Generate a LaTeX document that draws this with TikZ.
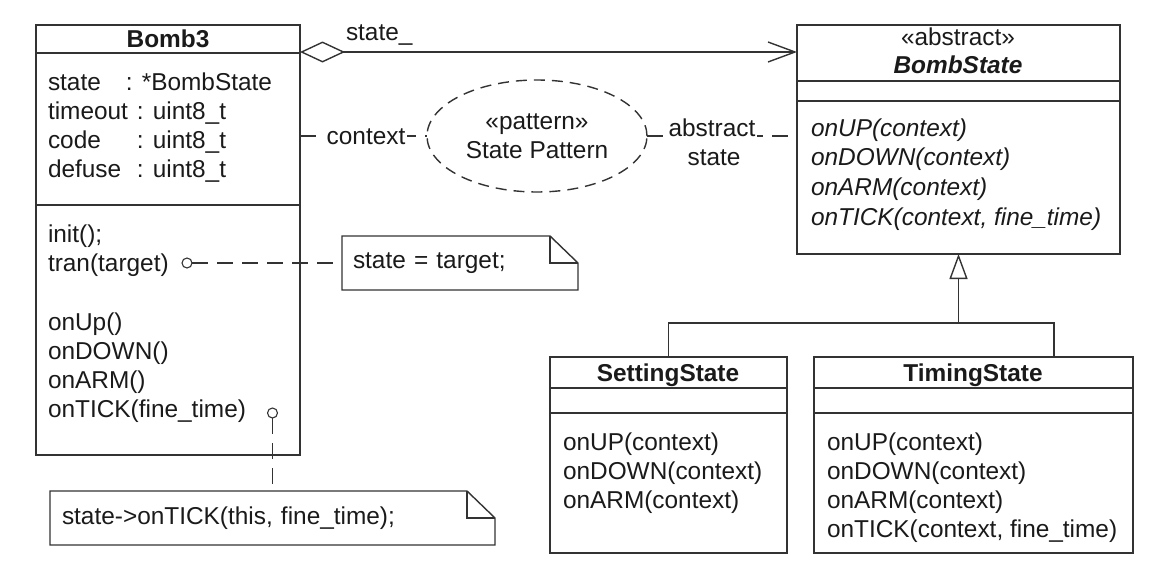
\documentclass[tikz,border=0pt]{standalone}
\usepackage{fontspec}
\setmainfont{Liberation Sans}
\usetikzlibrary{arrows.meta,shapes.geometric,calc}
\definecolor{ln}{HTML}{333333}
\definecolor{tx}{HTML}{1A1A1A}
\tikzset{
  every node/.style={inner sep=0pt, outer sep=0pt, text=tx, font=\fontsize{24.4}{29.3}\selectfont},
  cls/.style={draw=ln, rectangle, anchor=north west},
  txt/.style={anchor=base west},
  ttl/.style={anchor=base, font=\fontsize{24.4}{29.3}\selectfont\bfseries},
  itx/.style={anchor=base west, font=\fontsize{24.4}{29.3}\selectfont\itshape},
  sepline/.style={draw=ln},
  conn/.style={draw=ln, dash pattern=on 16pt off 9pt},
  lbl/.style={fill=white, inner sep=2pt, anchor=base},
  notebox/.style={anchor=north west, minimum height=54pt, align=left, inner ysep=0pt},
  pin/.style={circle, draw=ln, line width=1.1pt, minimum size=10pt, fill=white},
}
\newcommand{\notefold}[1]{%
  \draw[draw=ln] (#1.north west) -- ([xshift=-28pt]#1.north east) -- ([yshift=-27pt]#1.north east) -- (#1.south east) -- (#1.south west) -- cycle;
  \draw[draw=ln] ([xshift=-28pt]#1.north east) -- ([xshift=-28pt,yshift=-27pt]#1.north east) -- ([yshift=-27pt]#1.north east);}
\begin{document}
\begin{tikzpicture}[x=1pt, y=-1pt, line width=1.4pt]
\useasboundingbox (0,0) rectangle (1159,570);

% ---------- Bomb3 ----------
\node[cls, minimum width=264pt, minimum height=430pt] (b3) at (36,25) {};
\draw[sepline] ([yshift=-28pt]b3.north west) -- ([yshift=-28pt]b3.north east);
\draw[sepline] ([yshift=-180pt]b3.north west) -- ([yshift=-180pt]b3.north east);
\node[ttl] (b3t) at (168,47) {Bomb3};
\node[txt] (b3a1) at (48,90)  {\makebox[78pt][l]{state}: *BombState};
\node[txt] (b3a2) at (48,119) {\makebox[89pt][l]{timeout}: uint8\_t};
\node[txt] (b3a3) at (48,148) {\makebox[89pt][l]{code}: uint8\_t};
\node[txt] (b3a4) at (48,177) {\makebox[89pt][l]{defuse}: uint8\_t};
\node[txt] (b3o1) at (48,242) {init();};
\node[txt] (b3o2) at (48,271) {tran(target)};
\node[txt] (b3o3) at (48,330) {onUp()};
\node[txt] (b3o4) at (48,359) {onDOWN()};
\node[txt] (b3o5) at (48,388) {onARM()};
\node[txt] (b3o6) at (48,417) {onTICK(fine\_time)};

% ---------- BombState ----------
\node[cls, minimum width=323pt, minimum height=229pt] (bs) at (797,25) {};
\draw[sepline] ([yshift=-56pt]bs.north west) -- ([yshift=-56pt]bs.north east);
\draw[sepline] ([yshift=-76pt]bs.north west) -- ([yshift=-76pt]bs.north east);
\node[anchor=base] (bsst) at (958,45) {«abstract»};
\node[ttl, font=\fontsize{24.4}{29.3}\selectfont\bfseries\itshape] (bst) at (958,73) {BombState};
\node[itx] (bso1) at (811,136) {onUP(context)};
\node[itx] (bso2) at (811,165) {onDOWN(context)};
\node[itx] (bso3) at (811,195) {onARM(context)};
\node[itx] (bso4) at (811,225) {onTICK(context, fine\_time)};

% ---------- SettingState ----------
\node[cls, minimum width=237pt, minimum height=196pt] (ss) at (550,357) {};
\draw[sepline] ([yshift=-31pt]ss.north west) -- ([yshift=-31pt]ss.north east);
\draw[sepline] ([yshift=-56pt]ss.north west) -- ([yshift=-56pt]ss.north east);
\node[ttl] (sst) at (668,381) {SettingState};
\node[txt] (sso1) at (563,450) {onUP(context)};
\node[txt] (sso2) at (563,479) {onDOWN(context)};
\node[txt] (sso3) at (563,508) {onARM(context)};

% ---------- TimingState ----------
\node[cls, minimum width=319pt, minimum height=196pt] (ts) at (814,357) {};
\draw[sepline] ([yshift=-31pt]ts.north west) -- ([yshift=-31pt]ts.north east);
\draw[sepline] ([yshift=-56pt]ts.north west) -- ([yshift=-56pt]ts.north east);
\node[ttl] (tst) at (973,381) {TimingState};
\node[txt] (tso1) at (827,450) {onUP(context)};
\node[txt] (tso2) at (827,479) {onDOWN(context)};
\node[txt] (tso3) at (827,508) {onARM(context)};
\node[txt] (tso4) at (827,537) {onTICK(context, fine\_time)};

% ---------- pattern ellipse ----------
\node[draw=ln, ellipse, dash pattern=on 11pt off 7pt, minimum width=220pt, minimum height=112pt, align=center] (ell) at (537,136) {«pattern»\\State Pattern};

% ---------- notes ----------
\node[notebox, inner xsep=11pt, text width=214pt] (n1) at (342,236) {state = target;};
\notefold{n1}
\node[notebox, inner xsep=12pt, text width=421pt] (n2) at (50,491) {state->onTICK(this, fine\_time);};
\notefold{n2}

% ---------- association ----------
\draw[draw=ln, {Diamond[open,length=45pt,width=21pt]}-{Straight Barb[length=27pt,width=20pt]}]
  ([yshift=-27pt]b3.north east) -- ([yshift=-27pt]bs.north west);
\node[anchor=base west] (lstate) at (346,40) {state\_};

% ---------- collaboration roles ----------
\draw[conn] ([yshift=-111pt]b3.north east) -- (ell.west);
\draw[conn] (ell.east) -- ([yshift=-111pt]bs.north west);
\node[lbl] (lctx) at (366,144) {context};
\node[lbl] (labs) at (712,136) {abstract};
\node[anchor=base] (labs2) at (714,165) {state};

% ---------- note anchors ----------
\node[pin] (c1) at (187,263) {};
\node[pin] (c2) at (272.5,413) {};
\draw[conn] (c1.east) -- (n1.west);
\draw[conn] (c2.south) -- (n2.north);

% ---------- generalization ----------
\coordinate (j) at (958.5,323);
\draw[draw=ln, -{Triangle[open,length=25pt,width=18pt]}] (j) -- (bs.south);
\draw[draw=ln] (ss.north) |- (j) -| ([xshift=80.5pt]ts.north);
\end{tikzpicture}
\end{document}
